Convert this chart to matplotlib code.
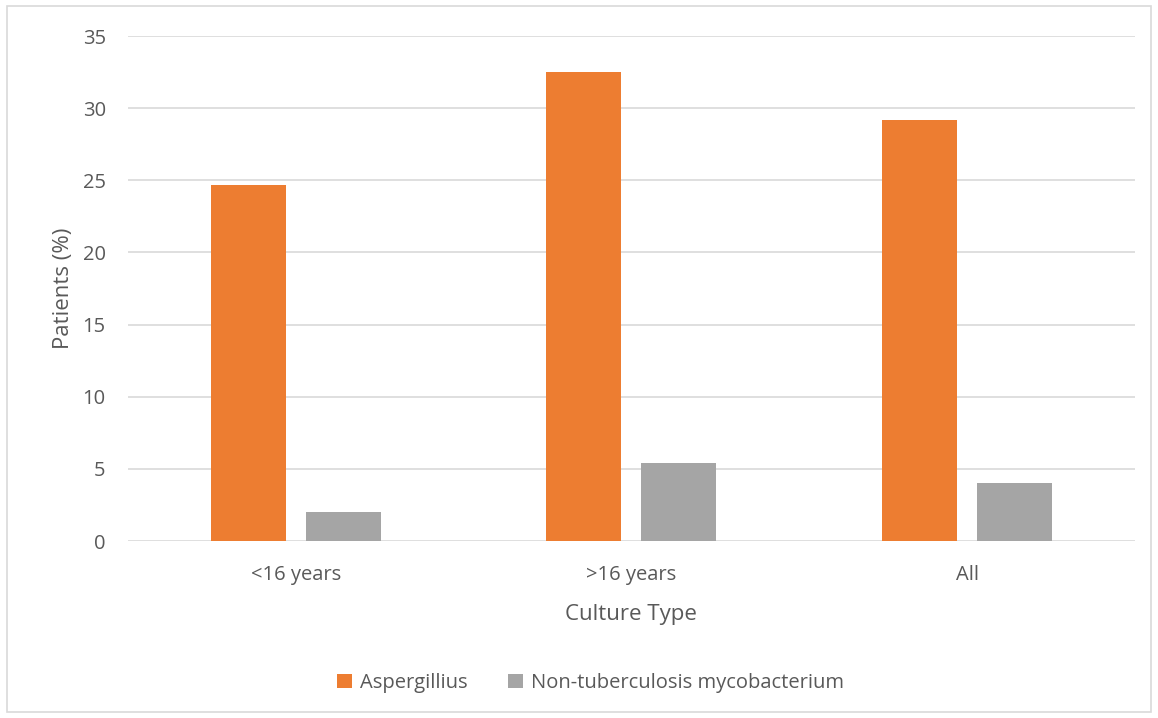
import numpy as np
import matplotlib
matplotlib.use("Agg")
import matplotlib.pyplot as plt
from matplotlib.patches import Rectangle

plt.rcParams['font.family'] = ['Open Sans', 'DejaVu Sans']

groups = ["<16 years", ">16 years", "All"]
aspergillius = [24.7, 32.5, 29.2]
ntm = [2.0, 5.4, 4.0]
yticks = [0, 5, 10, 15, 20, 25, 30, 35]

orange = '#ED7D31'
grey = '#A5A5A5'
txt = '#595959'
grid = '#D9D9D9'

fig = plt.figure(figsize=(11.58, 7.18), dpi=100)
ax = fig.add_axes([0.1105, 0.2465, 0.8695, 0.7033])

# outer chart frame
fig.patches.append(Rectangle((0.006, 0.008), 0.988, 0.983, transform=fig.transFigure,
                             fill=False, edgecolor=grid, linewidth=1.2))

x = np.arange(len(groups))
w = 0.223
off = 0.1415
ax.bar(x - off, aspergillius, w, color=orange, label="Aspergillius", zorder=3)
ax.bar(x + off, ntm, w, color=grey, label="Non-tuberculosis mycobacterium", zorder=3)

ax.set_xlim(-0.5, 2.5)
ax.set_ylim(0, 35)
ax.set_yticks(yticks)
ax.set_xticks(x)
ax.set_xticklabels(groups)
ax.tick_params(length=0, labelsize=14.5, colors=txt)
ax.tick_params(axis='y', pad=16)
ax.tick_params(axis='x', pad=17)
ax.yaxis.grid(True, color=grid, linewidth=1.2, zorder=0)
for s in ax.spines.values():
    s.set_visible(False)

ax.set_ylabel("Patients (%)", fontsize=16, color=txt, labelpad=6)
ax.set_xlabel("Culture Type", fontsize=16, color=txt, labelpad=14)

ax.legend(loc='center', bbox_to_anchor=(0.459, -0.281), ncol=2, frameon=False,
          fontsize=14.5, labelcolor=txt, handlelength=0.75, handleheight=0.75,
          columnspacing=2.0, handletextpad=0.4)

fig.savefig("out.png", dpi=100)
